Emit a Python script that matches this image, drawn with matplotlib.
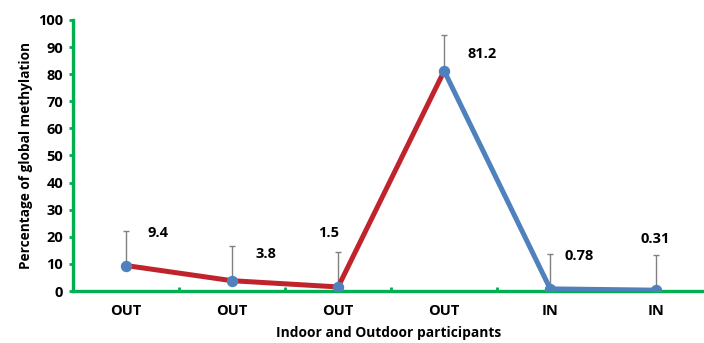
import matplotlib.pyplot as plt

groups = ['OUT', 'OUT', 'OUT', 'OUT', 'IN', 'IN']
methylation = [9.4, 3.8, 1.5, 81.2, 0.78, 0.31]
upper_err = [12.8, 12.9, 13.0, 13.1, 13.0, 13.1]

GREEN = '#00B050'
RED = '#C0232B'
BLUE = '#4F81BD'

plt.rcParams['font.family'] = ['Open Sans', 'DejaVu Sans']
plt.rcParams['font.weight'] = 'bold'

fig = plt.figure(figsize=(7.04, 3.43), dpi=100)
ax = fig.add_axes([0.1037, 0.1516, 0.8963, 0.7901])

x = list(range(1, len(groups) + 1))

ax.errorbar(x, methylation, yerr=[[0] * len(x), upper_err], fmt='none',
            ecolor='#808080', elinewidth=1, capsize=2.5, capthick=1, zorder=2)

# outdoor run in red, indoor run in blue, meeting at the peak
ax.plot(x[:4], methylation[:4], color=RED, lw=3.6, zorder=3,
        solid_capstyle='round')
ax.plot(x[3:], methylation[3:], color=BLUE, lw=3.6, zorder=3,
        solid_capstyle='round')
ax.plot(x, methylation, 'o', color=BLUE, ms=7.2, zorder=4)

# value labels, nudged clear of the error bars
offsets = [(0.30, 12.1), (0.32, 9.8), (-0.085, 19.9), (0.36, 6.3),
           (0.27, 12.2), (-0.01, 18.9)]
for xi, v, (dx, dy) in zip(x, methylation, offsets):
    ax.text(xi + dx, v + dy, f'{v:g}', ha='center', va='center',
            fontsize=10.5, fontweight='bold')

ax.set_xlim(0.5, 6.45)
ax.set_ylim(0, 100)
ax.set_yticks(range(0, 101, 10))
ax.set_xticks(x)
ax.set_xticklabels(groups, fontsize=10.5, fontweight='bold')
ax.set_xticks([i + 0.5 for i in x[:-1]], minor=True)
ax.tick_params(axis='x', which='major', length=0, pad=9)
ax.tick_params(axis='x', which='minor', direction='in', length=3,
               width=2, color=GREEN)
ax.tick_params(axis='y', direction='out', length=3, width=2, color=GREEN,
               labelsize=10.5, pad=4)
for lbl in ax.get_yticklabels():
    lbl.set_fontweight('bold')

for side in ('top', 'right'):
    ax.spines[side].set_visible(False)
for side in ('left', 'bottom'):
    ax.spines[side].set_color(GREEN)
    ax.spines[side].set_linewidth(2.4)
    ax.spines[side].set_zorder(1)

ax.set_ylabel('Percentage of global methylation', fontsize=9.8,
              fontweight='bold', labelpad=4)
ax.set_xlabel('Indoor and Outdoor participants', fontsize=9.9,
              fontweight='bold', labelpad=6)

fig.savefig('out.png', dpi=100)
